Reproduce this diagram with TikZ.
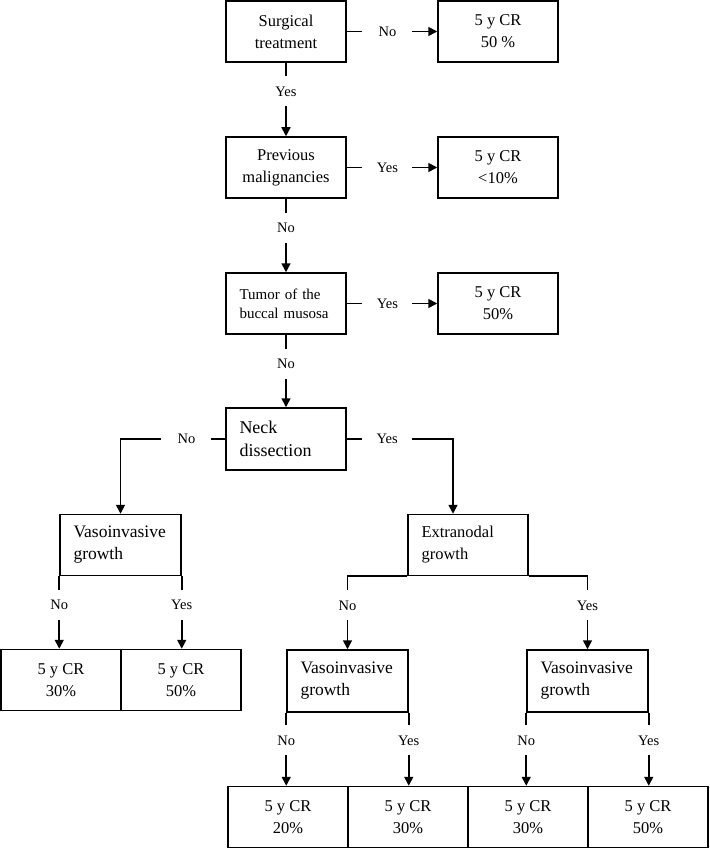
\documentclass[tikz,border=0pt]{standalone}
\usepackage{fontspec}
\setmainfont{Liberation Serif}
\usetikzlibrary{arrows.meta}
\begin{document}
\begin{tikzpicture}[x=1pt,y=-1pt,
 box/.style={draw, line width=1.5pt, minimum width=120pt, minimum height=61pt, inner sep=0pt, align=center, font=\fontsize{16.5}{22}\selectfont},
 lbox/.style={box, align=left, text width=93pt, inner xsep=13.5pt},
 vbox/.style={lbox, text width=94pt, font=\fontsize{17.5}{22}\selectfont},
 lab/.style={fill=white, minimum width=50pt, minimum height=30pt, inner sep=0pt, font=\fontsize{14.5}{17}\selectfont},
 arr/.style={line width=1.6pt, -{Triangle[length=9pt,width=9pt]}}]
\useasboundingbox (0,0) rectangle (709,848);
% main column
\node[box] (s1) at (286,31.5) {Surgical\\treatment};
\node[box] (r1) at (498,31.5) {5 y CR\\50 \%};
\node[box] (s2) at (286,167.5) {Previous\\malignancies};
\node[box] (r2) at (498,167.5) {5 y CR\\<10\%};
\node[lbox, font=\fontsize{15}{19}\selectfont] (s3) at (286,303.5) {Tumor of the\\buccal musosa};
\node[box] (r3) at (498,303.5) {5 y CR\\50\%};
\node[lbox, minimum height=62pt, font=\fontsize{18}{23}\selectfont] (s4) at (286,439) {Neck\\dissection};
% second level
\node[vbox] (v1) at (120.5,545) {Vasoinvasive\\growth};
\node[lbox] (e1) at (468,545) {Extranodal\\growth};
\node[box] (b1) at (61,680) {5 y CR\\30\%};
\node[box] (b2) at (181,680) {5 y CR\\50\%};
\node[vbox, minimum height=62pt] (v2) at (347.5,681) {Vasoinvasive\\growth};
\node[vbox, minimum height=62pt] (v3) at (587.5,681) {Vasoinvasive\\growth};
\node[box] (c1) at (288,817) {5 y CR\\20\%};
\node[box] (c2) at (408,817) {5 y CR\\30\%};
\node[box] (c3) at (528,817) {5 y CR\\30\%};
\node[box] (c4) at (648,817) {5 y CR\\50\%};
% connectors
\draw[arr] (s1.east) -- node[lab,pos=0.45]{No} (r1.west);
\draw[arr] (s2.east) -- node[lab,pos=0.45]{Yes} (r2.west);
\draw[arr] (s3.east) -- node[lab,pos=0.45]{Yes} (r3.west);
\draw[arr] (s1.south) -- node[lab,pos=0.39]{Yes} (s2.north);
\draw[arr] (s2.south) -- node[lab,pos=0.4]{No} (s3.north);
\draw[arr] (s3.south) -- node[lab,pos=0.4]{No} (s4.north);
\coordinate (ny) at (453,439);
\draw[arr] (s4.west) -- node[lab,pos=0.37]{No} (s4.west -| v1.north) -- (v1.north);
\draw[arr] (s4.east) -- node[lab,pos=0.38]{Yes} (ny) -- (ny |- e1.north);
\draw[arr] (v1.south west) -- node[lab,pos=0.4]{No} (v1.south west |- b1.north);
\draw[arr] (v1.south east) -- node[lab,pos=0.4]{Yes} (v1.south east |- b2.north);
\draw[arr] (e1.south west) -- (e1.south west -| v2.north) -- node[lab,pos=0.4]{No} (v2.north);
\draw[arr] (e1.south east) -- (e1.south east -| v3.north) -- node[lab,pos=0.4]{Yes} (v3.north);
\draw[arr] (v2.south west) -- node[lab,pos=0.38]{No} (v2.south west |- c1.north);
\draw[arr] (v2.south east) -- node[lab,pos=0.38]{Yes} (v2.south east |- c2.north);
\draw[arr] (v3.south west) -- node[lab,pos=0.38]{No} (v3.south west |- c3.north);
\draw[arr] (v3.south east) -- node[lab,pos=0.38]{Yes} (v3.south east |- c4.north);
\end{tikzpicture}
\end{document}
